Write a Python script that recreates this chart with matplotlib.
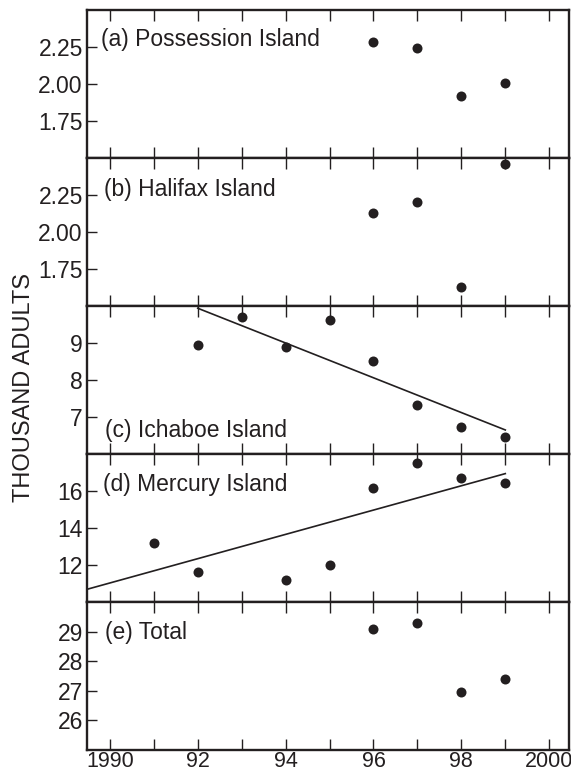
import matplotlib
matplotlib.use("Agg")
import matplotlib.pyplot as plt
from matplotlib.ticker import FixedLocator, FuncFormatter

plt.rcParams['font.family'] = ['Liberation Sans', 'DejaVu Sans']

# ---- data (thousand adults) ----
years_a = [1996, 1997, 1998, 1999]
poss_vals = [2.285, 2.245, 1.917, 2.005]

years_b = [1996, 1997, 1998, 1999]
hali_vals = [2.129, 2.202, 1.627, 2.461]

years_c = [1992, 1993, 1994, 1995, 1996, 1997, 1998, 1999]
icha_vals = [8.95, 9.71, 8.88, 9.62, 8.52, 7.32, 6.72, 6.47]
icha_trend_years = [1992, 1999]
icha_trend_vals = [9.94, 6.65]

years_d = [1991, 1992, 1994, 1995, 1996, 1997, 1998, 1999]
merc_vals = [13.19, 11.60, 11.17, 12.02, 16.16, 17.50, 16.69, 16.45]
merc_trend_years = [1989.5, 1999]
merc_trend_vals = [10.70, 16.94]

years_e = [1996, 1997, 1998, 1999]
total_vals = [29.08, 29.29, 26.96, 27.39]

panel_labels = ["(a) Possession Island", "(b) Halifax Island", "(c) Ichaboe Island",
                "(d) Mercury Island", "(e) Total"]
ylims = [(1.5, 2.5), (1.5, 2.5), (6, 10), (10, 18), (25, 30)]
yticks = [[1.75, 2.00, 2.25], [1.75, 2.00, 2.25], [7, 8, 9], [12, 14, 16], [26, 27, 28, 29]]
yfmt = ["{:.2f}", "{:.2f}", "{:d}", "{:d}", "{:d}"]
label_pos = [(0.030, 0.755), (0.035, 0.743), (0.037, 0.115), (0.033, 0.748), (0.037, 0.747)]
x_tick_years = list(range(1990, 2001))
x_tick_labels = {1990: "1990", 1992: "92", 1994: "94", 1996: "96", 1998: "98", 2000: "2000"}

series = [
    (years_a, poss_vals, None, None),
    (years_b, hali_vals, None, None),
    (years_c, icha_vals, icha_trend_years, icha_trend_vals),
    (years_d, merc_vals, merc_trend_years, merc_trend_vals),
    (years_e, total_vals, None, None),
]

FS = 16.5
ink = "#231f20"
fig, axes = plt.subplots(5, 1, figsize=(5.71, 7.76), dpi=100, sharex=True)
fig.subplots_adjust(left=0.1524, right=0.9965, top=0.9871, bottom=0.0335, hspace=0)

for i, ax in enumerate(axes):
    xs, ys, tx, ty = series[i]
    ax.plot(xs, ys, 'o', color=ink, markersize=7.2, markeredgewidth=0, zorder=3, clip_on=False)
    if tx is not None:
        ax.plot(tx, ty, '-', color=ink, linewidth=1.2, zorder=2)
    ax.set_ylim(*ylims[i])
    ax.set_xlim(1989.48, 2000.45)
    ax.set_yticks(yticks[i])
    fmt = yfmt[i]
    ax.set_yticklabels([fmt.format(int(v)) if fmt == "{:d}" else fmt.format(v) for v in yticks[i]])
    ax.xaxis.set_major_locator(FixedLocator(x_tick_years))
    ax.xaxis.set_major_formatter(FuncFormatter(lambda v, p: x_tick_labels.get(int(round(v)), "")))
    ax.tick_params(axis='x', which='both', direction='in', length=8, width=1.0,
                   top=True, bottom=True, color=ink, labelsize=15.5, labelcolor=ink, pad=0.8)
    ax.tick_params(axis='y', direction='in', length=7.5, width=1.0, left=True, right=False,
                   color=ink, labelsize=FS, labelcolor=ink, pad=3)
    for s in ax.spines.values():
        s.set_linewidth(1.7)
        s.set_color(ink)
    ax.text(label_pos[i][0], label_pos[i][1], panel_labels[i], transform=ax.transAxes,
            fontsize=FS, color=ink, ha='left', va='baseline')
    if i < 4:
        ax.tick_params(axis='x', labelbottom=False)

fig.text(0.042, 0.501, "THOUSAND ADULTS", rotation=90, ha='center', va='center',
         fontsize=17, color=ink)

fig.savefig("out.png", dpi=100)
